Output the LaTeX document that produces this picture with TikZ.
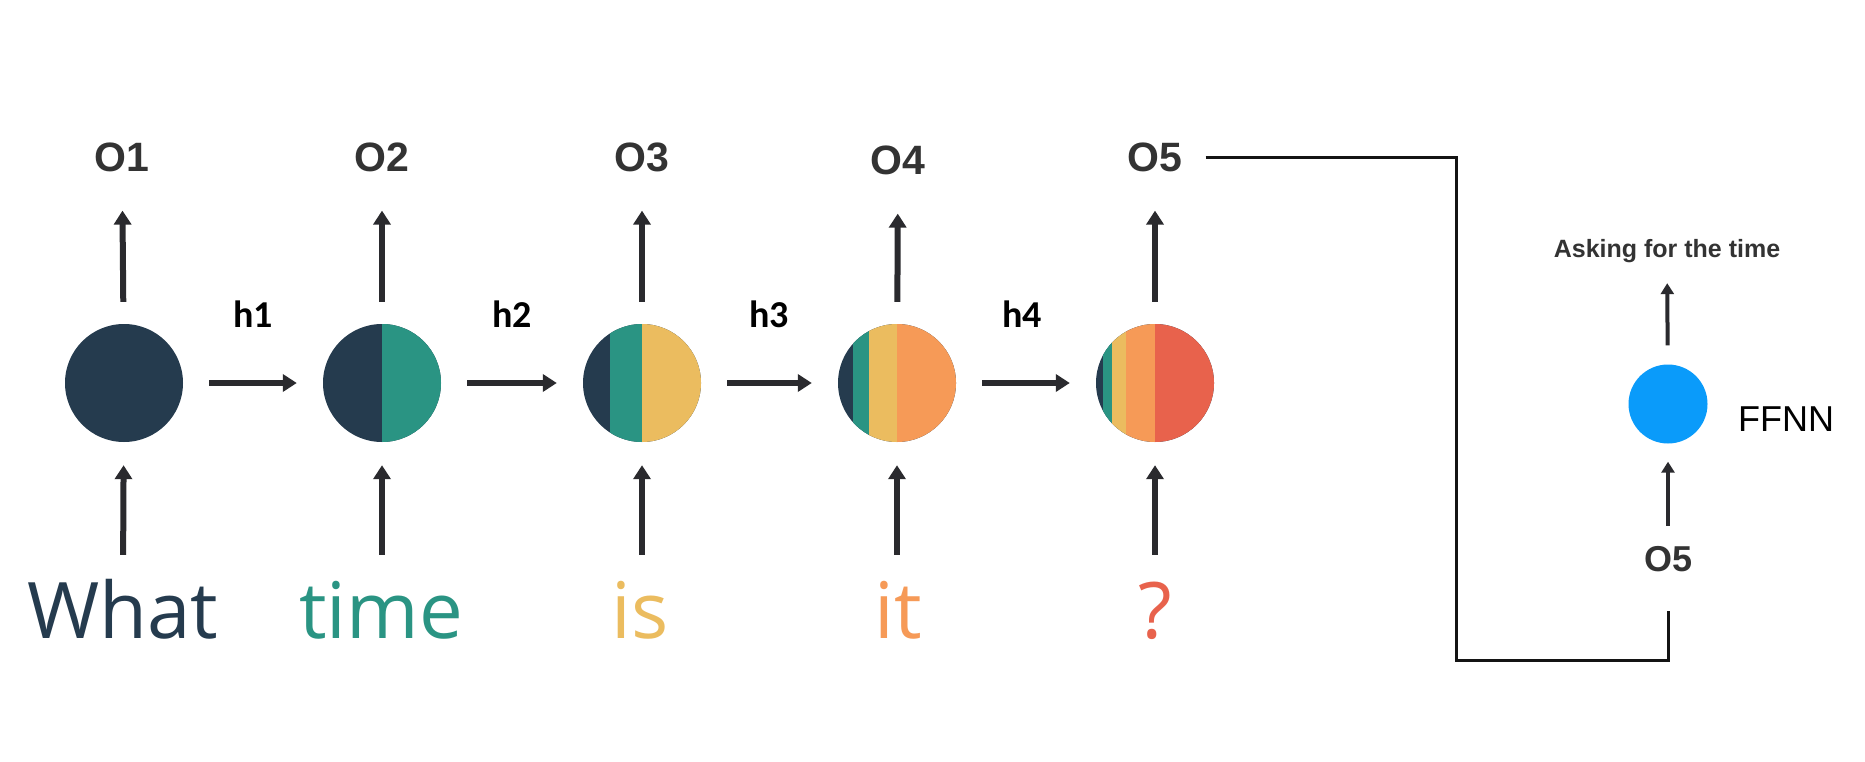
\documentclass[tikz,border=0pt]{standalone}
\usepackage{fontspec}
\setmainfont{Liberation Sans}
\newfontfamily\wordfont{Open Sans}
\newfontfamily\hfont{Carlito}
\usetikzlibrary{arrows.meta}
\definecolor{cdark}{HTML}{253B4E}
\definecolor{cteal}{HTML}{2A9483}
\definecolor{cyellow}{HTML}{EBBC5F}
\definecolor{corange}{HTML}{F69A57}
\definecolor{cred}{HTML}{E8624C}
\definecolor{cblue}{HTML}{0A9BFA}
\definecolor{carrow}{HTML}{2A2A2E}
\definecolor{clab}{HTML}{333333}
\begin{document}
\begin{tikzpicture}[x=1pt,y=-1pt,
  cell/.style={circle,minimum size=118pt,inner sep=0pt,fill=cdark},
  olab/.style={anchor=base,inner sep=0pt,text=clab,font=\fontsize{41}{48}\selectfont\bfseries},
  hlab/.style={anchor=base,inner sep=0pt,text=black,font=\hfont\fontsize{38}{44}\selectfont\bfseries},
  word/.style={anchor=base,inner sep=0pt,text height=58pt,text depth=0pt,font=\wordfont\fontsize{78}{90}\selectfont},
  arr/.style={draw=carrow,line width=6pt,-{Triangle[width=17pt,length=14pt]}},
  sarr/.style={draw=carrow,line width=4pt,-{Triangle[width=13pt,length=11pt]}},
  conn/.style={draw=black!92,line width=3pt}]
\useasboundingbox (0,0) rectangle (1865,762);
\fill[white] (0,0) rectangle (1865,762);

% cells
\node[cell] (c1) at (124,383) {};
\node[cell] (c2) at (382,383) {};
\node[cell] (c3) at (642,383) {};
\node[cell] (c4) at (897,383) {};
\node[cell] (c5) at (1155,383) {};
\begin{scope}
  \clip (c2.center) circle[radius=59pt];
  \fill[cteal] (382,320) rectangle (445,450);
\end{scope}
\begin{scope}
  \clip (c3.center) circle[radius=59pt];
  \fill[cteal] (610,320) rectangle (642,450);
  \fill[cyellow] (642,320) rectangle (705,450);
\end{scope}
\begin{scope}
  \clip (c4.center) circle[radius=59pt];
  \fill[cteal] (853,320) rectangle (869,450);
  \fill[cyellow] (869,320) rectangle (897,450);
  \fill[corange] (897,320) rectangle (960,450);
\end{scope}
\begin{scope}
  \clip (c5.center) circle[radius=59pt];
  \fill[cteal] (1103,320) rectangle (1112,450);
  \fill[cyellow] (1112,320) rectangle (1126,450);
  \fill[corange] (1126,320) rectangle (1155,450);
  \fill[cred] (1155,320) rectangle (1218,450);
\end{scope}

% output labels
\node[olab] (o1) at (122,172) {O1};
\node[olab] (o2) at (382,172) {O2};
\node[olab] (o3) at (642,172) {O3};
\node[olab] (o4) at (898,175) {O4};
\node[olab] (o5) at (1155,172) {O5};

% hidden-state labels
\node[hlab] (h1) at (253,327) {h1};
\node[hlab] (h2) at (512,327) {h2};
\node[hlab] (h3) at (769,327) {h3};
\node[hlab] (h4) at (1022,327) {h4};

% words
\node[word,text=cdark] (w1) at (123,638) {What};
\node[word,text=cteal] (w2) at (381,638) {time};
\node[word,text=cyellow] (w3) at (640,638) {is};
\node[word,text=corange] (w4) at (898,638) {it};
\node[word,text=cred] (w5) at (1155,638) {?};

% arrows
\foreach \i in {1,...,5}{
  \draw[arr,shorten <=22pt,shorten >=38pt] (c\i) -- (o\i);
}
\draw[arr,shorten <=25pt,shorten >=23pt] (w1.north) -- (c1);
\draw[arr,shorten <=25pt,shorten >=23pt] (w2.north -| c2) -- (c2);
\draw[arr,shorten <=25pt,shorten >=23pt] (w3.north -| c3) -- (c3);
\draw[arr,shorten <=25pt,shorten >=23pt] (w4.north -| c4) -- (c4);
\draw[arr,shorten <=25pt,shorten >=23pt] (w5.north) -- (c5);
\draw[arr,shorten <=26pt,shorten >=26pt] (c1) -- (c2);
\draw[arr,shorten <=26pt,shorten >=26pt] (c2) -- (c3);
\draw[arr,shorten <=26pt,shorten >=26pt] (c3) -- (c4);
\draw[arr,shorten <=26pt,shorten >=26pt] (c4) -- (c5);

% right panel
\node[circle,fill=cblue,minimum size=79pt,inner sep=0pt] (ff) at (1668,404) {};
\node[anchor=base west,inner sep=0pt,font=\fontsize{36}{42}\selectfont] (fflab) at (1738,431) {FFNN};
\node[anchor=base,inner sep=0pt,text depth=0pt,text=clab,font=\fontsize{25}{30}\selectfont\bfseries] (ask) at (1667,257) {Asking for the time};
\node[anchor=base,inner sep=0pt,text=clab,font=\fontsize{36}{42}\selectfont\bfseries] (o5b) at (1668,571) {O5};
\draw[sarr,shorten <=19pt,shorten >=26pt] (ff) -- (ask);
\draw[sarr,shorten <=20pt,shorten >=18pt] (o5b) -- (ff);

% connector O5 -> O5
\draw[conn] ([xshift=23pt]o5.east) -| (1456,660) -| ([yshift=-39pt]o5b.south);
\end{tikzpicture}
\end{document}
